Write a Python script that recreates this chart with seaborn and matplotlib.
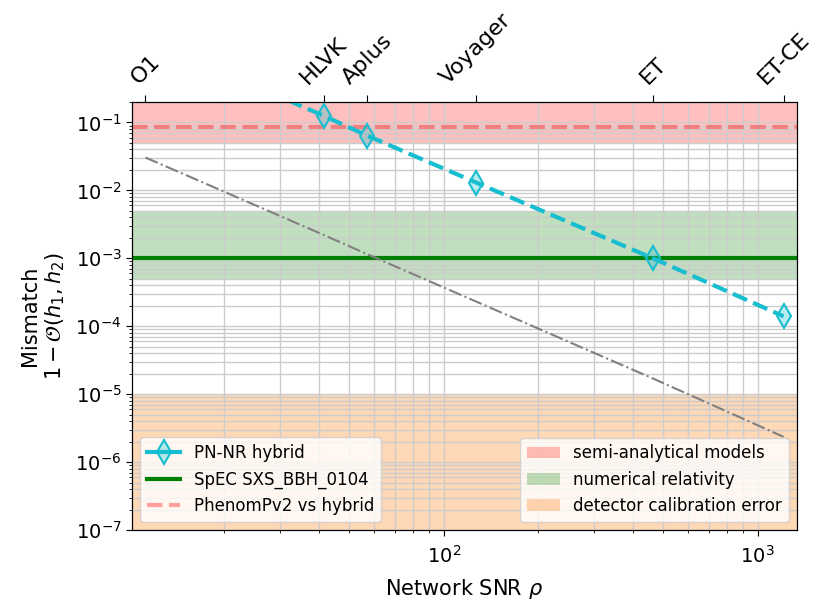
import numpy as np
import pandas as pd
import matplotlib
matplotlib.use("Agg")
import matplotlib.pyplot as plt
import seaborn as sns
from matplotlib.patches import Patch
from matplotlib.lines import Line2D
from matplotlib.ticker import NullLocator

# ---- data ----
detectors = ["O1", "HLVK", "Aplus", "Voyager", "ET", "ET-CE"]
snr = [11.2, 41.5, 57.0, 127.0, 464.0, 1210.0]
hybrid_mismatch = [1.7, 0.125, 0.064, 0.013, 1.0e-3, 1.4e-4]
floor_mismatch = [0.0305, 2.2e-3, 1.15e-3, 2.3e-4, 1.7e-5, 2.35e-6]
spec_mismatch = 1e-3
phenom_mismatch = 0.087
semi_band = [0.05, 1.0]
nr_band = [5e-4, 5e-3]
calib_band = [1e-8, 1e-5]

df = pd.DataFrame({"snr": snr, "hybrid": hybrid_mismatch, "floor": floor_mismatch})

plt.rcParams["font.family"] = ["DejaVu Sans"]
fig, ax = plt.subplots(figsize=(8.17, 6.12), dpi=100)
fig.subplots_adjust(left=0.1616, right=0.9755, top=0.8333, bottom=0.134)

ax.set_xscale("log")
ax.set_yscale("log")

# bands
ax.axhspan(semi_band[0], semi_band[1], color="red", alpha=0.25, lw=0, zorder=1)
ax.axhspan(nr_band[0], nr_band[1], color="green", alpha=0.25, lw=0, zorder=1)
ax.axhspan(calib_band[0], calib_band[1], color="tab:orange", alpha=0.3, lw=0, zorder=1)

# horizontal lines
ax.axhline(spec_mismatch, color="green", lw=3, zorder=3)
ax.axhline(phenom_mismatch, color="red", alpha=0.35, lw=3, ls="--", zorder=3)

# gray dash-dot
sns.lineplot(data=df, x="snr", y="floor", ax=ax, color="gray", lw=1.5,
             linestyle="-.", zorder=3, legend=False)

# PN-NR hybrid
cyan = "#17becf"
mfc = (0.09, 0.75, 0.81, 0.3)
sns.lineplot(data=df, x="snr", y="hybrid", ax=ax, color=cyan, lw=3,
             linestyle="--", marker="d", markersize=12,
             markerfacecolor=mfc, markeredgecolor=cyan,
             markeredgewidth=1.5, zorder=4, legend=False)

ax.set_xlim(10.15, 1335)
ax.set_ylim(1e-7, 0.2)
ax.grid(True, which="both", color="0.8", lw=1.0)

for s in ax.spines.values():
    s.set_color("black")
ax.tick_params(axis="both", which="major", labelsize=14, color="black", length=4)
ax.tick_params(axis="x", which="major", pad=7)
ax.set_xlabel(r"Network SNR $\rho$", fontsize=15, labelpad=7)
ax.set_ylabel("Mismatch\n" + r"$1-\mathcal{O}(h_1, h_2)$", fontsize=15, labelpad=6)

# top axis
ax2 = ax.twiny()
ax2.set_xscale("log")
ax2.set_xlim(ax.get_xlim())
ax2.set_xticks(snr)
ax2.set_xticklabels(detectors, rotation=45, fontsize=16)
ax2.xaxis.set_minor_locator(NullLocator())
ax2.tick_params(axis="x", color="black", length=5, pad=5)
for s in ax2.spines.values():
    s.set_color("black")

# legends
h1 = [
    Line2D([], [], color=cyan, lw=3, marker="d", markersize=12,
           markerfacecolor=mfc, markeredgecolor=cyan, markeredgewidth=1.5),
    Line2D([], [], color="green", lw=3),
    Line2D([], [], color="red", alpha=0.35, lw=3, ls="--"),
]
leg1 = ax.legend(h1, ["PN-NR hybrid", "SpEC SXS_BBH_0104", "PhenomPv2 vs hybrid"],
                 loc="lower left", fontsize=12)
ax.add_artist(leg1)
h2 = [
    Patch(color="red", alpha=0.25, lw=0),
    Patch(color="green", alpha=0.25, lw=0),
    Patch(color="tab:orange", alpha=0.3, lw=0),
]
ax.legend(h2, ["semi-analytical models", "numerical relativity", "detector calibration error"],
          loc="lower right", fontsize=12)

fig.savefig("out.png", dpi=100)
